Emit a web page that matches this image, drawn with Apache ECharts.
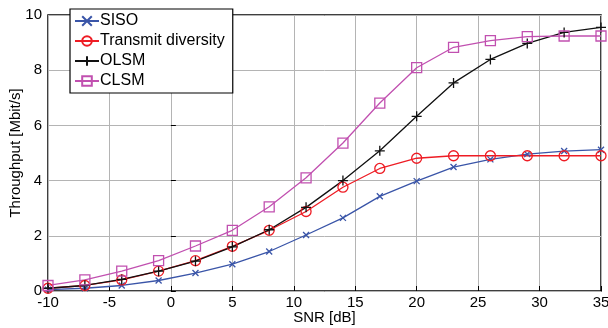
<!DOCTYPE html>
<html>
<head>
<meta charset="utf-8">
<script src="https://cdn.jsdelivr.net/npm/echarts@6/dist/echarts.min.js"></script>
<style>
  html, body { margin: 0; padding: 0; background: #fff; }
  #chart { width: 608px; height: 328px; }
</style>
</head>
<body>
<div id="chart"></div>
<script>
// SNR points in dB
const snr = [-10, -7, -4, -1, 2, 5, 8, 11, 14, 17, 20, 23, 26, 29, 32, 35]

const siso = [0.05, 0.1, 0.2, 0.38, 0.65, 0.97, 1.43, 2.03, 2.65, 3.43, 3.98, 4.49, 4.77, 4.96, 5.07, 5.12]
const txDiv = [0.1, 0.2, 0.4, 0.72, 1.1, 1.62, 2.2, 2.88, 3.76, 4.44, 4.81, 4.9, 4.9, 4.9, 4.9, 4.9]
const olsm = [0.1, 0.2, 0.42, 0.72, 1.08, 1.6, 2.22, 3.03, 4.0, 5.08, 6.33, 7.54, 8.39, 8.97, 9.37, 9.55]
const clsm = [0.2, 0.4, 0.72, 1.1, 1.63, 2.2, 3.05, 4.1, 5.36, 6.81, 8.09, 8.83, 9.07, 9.22, 9.24, 9.24]

const names = ['SISO', 'Transmit diversity', 'OLSM', 'CLSM']

const pair = (ys) => snr.map((x, i) => [x, ys[i]])

const xMark = 'path://M0,0L10,10M10,0L0,10'
const plusMark = 'path://M5,0L5,10M0,5L10,5'

function mk(name, ys, color, symbol, size) {
  return {
    name: name,
    type: 'line',
    data: pair(ys),
    symbol: symbol,
    symbolSize: size,
    showAllSymbol: true,
    lineStyle: { color: color, width: 1.3 },
    itemStyle: { color: 'none', borderColor: color, borderWidth: 1.3 },
    emphasis: { disabled: true }
  }
}

const chart = echarts.init(document.getElementById('chart'))
chart.setOption({
  animation: false,
  textStyle: { fontFamily: 'Liberation Sans, Arial, sans-serif' },
  grid: {
    left: 48, right: 7, top: 15, bottom: 37,
    outerBoundsMode: 'none',
    containLabel: false,
    show: true, borderColor: '#000', borderWidth: 1.5
  },
  legend: {
    orient: 'vertical',
    left: 70, top: 9,
    padding: [4, 8, 4, 4],
    itemGap: 4,
    itemWidth: 24, itemHeight: 12,
    backgroundColor: '#fff',
    borderColor: '#000',
    borderWidth: 1.2,
    borderRadius: 0,
    textStyle: { fontSize: 16, color: '#000', padding: [0, 0, 0, -4] },
    data: names
  },
  xAxis: {
    type: 'value',
    min: -10, max: 35, interval: 5,
    name: 'SNR [dB]',
    nameLocation: 'middle',
    nameGap: 19,
    nameMoveOverlap: false,
    nameTextStyle: { fontSize: 15, color: '#000' },
    axisLine: { show: false },
    axisTick: { show: true, inside: true, length: 5, lineStyle: { color: '#000' } },
    axisLabel: { fontSize: 15, color: '#000', margin: 4 },
    splitLine: { show: true, lineStyle: { color: '#b4b4b4', width: 1 } }
  },
  yAxis: {
    type: 'value',
    min: 0, max: 10, interval: 2,
    name: 'Throughput [Mbit/s]',
    nameLocation: 'middle',
    nameGap: 25,
    nameMoveOverlap: false,
    nameTextStyle: { fontSize: 15, color: '#000' },
    axisLine: { show: false },
    axisTick: { show: true, inside: true, length: 5, lineStyle: { color: '#000' } },
    axisLabel: { fontSize: 15, color: '#000', margin: 6 },
    splitLine: { show: true, lineStyle: { color: '#b4b4b4', width: 1 } }
  },
  series: [
    mk(names[0], siso, '#3a55a8', xMark, 6),
    mk(names[1], txDiv, '#ee1c24', 'circle', 10),
    mk(names[2], olsm, '#111111', plusMark, 10),
    mk(names[3], clsm, '#c150b0', 'rect', 10)
  ]
})
</script>
</body>
</html>
